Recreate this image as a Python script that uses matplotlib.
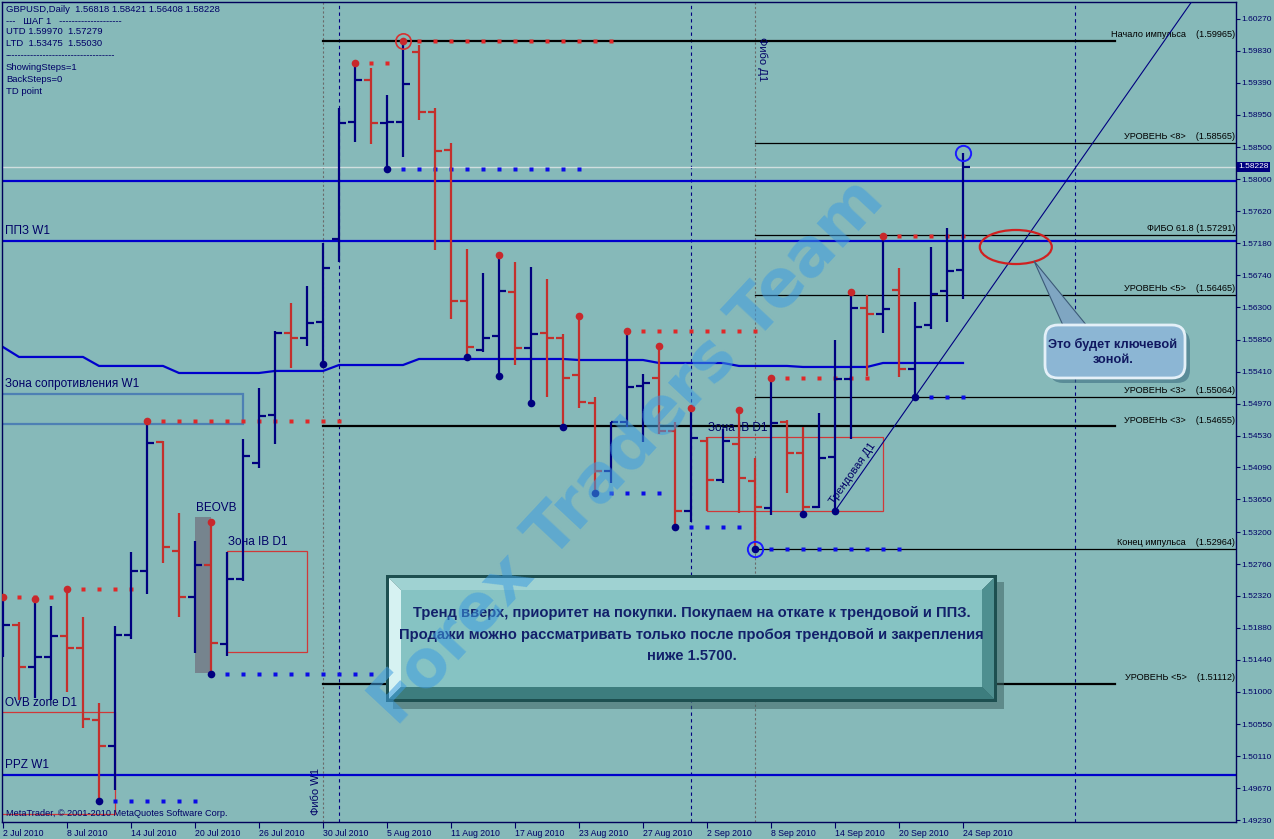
import matplotlib
matplotlib.use("Agg")
import matplotlib.pyplot as plt
from matplotlib.patches import Rectangle, Ellipse, Polygon, FancyBboxPatch
from matplotlib.transforms import IdentityTransform
import numpy as np

plt.rcParams['font.family'] = ['Liberation Sans', 'DejaVu Sans']

W, H = 1274, 839
BG = '#86b9b9'
UP = '#00007f'
DOWN = '#c3302c'
BLUE = '#0000cc'
NAVY = '#000066'

# ---------------- data ----------------
date_labels = ["2 Jul 2010", "8 Jul 2010", "14 Jul 2010", "20 Jul 2010", "26 Jul 2010",
               "30 Jul 2010", "5 Aug 2010", "11 Aug 2010", "17 Aug 2010", "23 Aug 2010",
               "27 Aug 2010", "2 Sep 2010", "8 Sep 2010", "14 Sep 2010", "20 Sep 2010",
               "24 Sep 2010"]
date_label_idx = [0, 4, 8, 12, 16, 20, 24, 28, 32, 36, 40, 44, 48, 52, 56, 60]

price_ticks = [1.60270, 1.59830, 1.59390, 1.58950, 1.58500, 1.58060, 1.57620, 1.57180,
               1.56740, 1.56300, 1.55850, 1.55410, 1.54970, 1.54530, 1.54090, 1.53650,
               1.53200, 1.52760, 1.52320, 1.51880, 1.51440, 1.51000, 1.50550, 1.50110,
               1.49670, 1.49230]

opens = [1.51713, 1.51919, 1.51341, 1.51479, 1.51768, 1.51603, 1.50610, 1.50252, 1.51782, 1.52664,
         1.54441, 1.52939, 1.52305, 1.52746, 1.51658, 1.52553, 1.54152, 1.54813, 1.55943, 1.55874,
         1.56095, 1.57239, 1.58851, 1.59430, 1.58837, 1.58851, 1.59815, 1.58989, 1.58465, 1.56384,
         1.55709, 1.55902, 1.56508, 1.55737, 1.55943, 1.55874, 1.55364, 1.54979, 1.54042, 1.54717,
         1.55213, 1.55323, 1.54593, 1.53490, 1.54455, 1.53918, 1.54414, 1.53904, 1.53532, 1.54717,
         1.54290, 1.53546, 1.54235, 1.55309, 1.56288, 1.56205, 1.56536, 1.55447, 1.56053, 1.56522,
         1.56818]
highs = [1.52305, 1.51961, 1.52278, 1.52181, 1.52416, 1.52030, 1.50845, 1.51906, 1.52925, 1.54731,
         1.54455, 1.53463, 1.53077, 1.53339, 1.52925, 1.54483, 1.55185, 1.55971, 1.56357, 1.56591,
         1.57183, 1.59044, 1.59664, 1.59595, 1.59223, 1.59965, 1.59912, 1.59044, 1.58561, 1.57101,
         1.56770, 1.57018, 1.56922, 1.56853, 1.56687, 1.55929, 1.56178, 1.55061, 1.54717, 1.55971,
         1.55378, 1.55764, 1.54717, 1.54910, 1.54510, 1.54620, 1.54882, 1.54221, 1.55323, 1.54744,
         1.54648, 1.54841, 1.55847, 1.56508, 1.56467, 1.57280, 1.56839, 1.56370, 1.57128, 1.57390,
         1.58421]
lows = [1.51479, 1.50886, 1.50914, 1.50886, 1.50996, 1.50500, 1.49494, 1.49646, 1.51727, 1.52347,
        1.52774, 1.52030, 1.51534, 1.51244, 1.51492, 1.52520, 1.54083, 1.54414, 1.55461, 1.55764,
        1.55516, 1.56922, 1.58575, 1.58548, 1.58203, 1.58369, 1.58878, 1.57087, 1.56136, 1.55613,
        1.55681, 1.55351, 1.55502, 1.54979, 1.55061, 1.54648, 1.54910, 1.53738, 1.53876, 1.54648,
        1.54441, 1.54551, 1.53270, 1.53339, 1.53490, 1.53876, 1.53463, 1.52964, 1.53435, 1.53738,
        1.53449, 1.53532, 1.53490, 1.54483, 1.55351, 1.55943, 1.55337, 1.55064, 1.55998, 1.56095,
        1.56408]
closes = [1.51919, 1.51341, 1.51479, 1.51768, 1.51603, 1.50624, 1.50252, 1.51782, 1.52664, 1.54427,
          1.52994, 1.52305, 1.52746, 1.51671, 1.52553, 1.54248, 1.54800, 1.55943, 1.55874, 1.56081,
          1.56839, 1.58837, 1.59430, 1.58837, 1.58851, 1.59374, 1.58989, 1.58451, 1.56384, 1.55750,
          1.55874, 1.56522, 1.55737, 1.55929, 1.55874, 1.55323, 1.54992, 1.54042, 1.54717, 1.55199,
          1.55254, 1.54593, 1.53490, 1.54496, 1.53918, 1.54455, 1.53945, 1.53546, 1.54703, 1.54290,
          1.53546, 1.54221, 1.55309, 1.56288, 1.56205, 1.56274, 1.55447, 1.56026, 1.56481, 1.56798,
          1.58228]

ma_line = [1.55750, 1.55613, 1.55613, 1.55613, 1.55613, 1.55613, 1.55489, 1.55489, 1.55489, 1.55489,
           1.55489, 1.55392, 1.55392, 1.55392, 1.55392, 1.55392, 1.55392, 1.55420, 1.55420, 1.55420,
           1.55420, 1.55502, 1.55502, 1.55502, 1.55502, 1.55502, 1.55585, 1.55585, 1.55585, 1.55585,
           1.55585, 1.55585, 1.55585, 1.55585, 1.55585, 1.55585, 1.55571, 1.55571, 1.55571, 1.55571,
           1.55571, 1.55530, 1.55530, 1.55530, 1.55530, 1.55530, 1.55489, 1.55489, 1.55489, 1.55489,
           1.55475, 1.55475, 1.55475, 1.55475, 1.55475, 1.55530, 1.55530, 1.55530, 1.55530, 1.55530,
           1.55530]

td_high_idx = [0, 2, 4, 9, 13, 22, 25, 31, 36, 39, 41, 43, 46, 48, 53, 55]
td_low_idx = [6, 13, 20, 24, 29, 31, 33, 35, 37, 42, 47, 50, 52, 57]
td_high_lines = [(0, 3), (4, 8), (9, 21), (22, 24), (25, 38), (39, 47), (48, 54), (55, 60)]
td_low_lines = [(6, 12), (13, 23), (24, 36), (37, 41), (42, 46), (47, 56), (57, 60)]

blue_levels = [1.58038, 1.57211, 1.49852]
blue_level_names = ["", "ППЗ W1", "PPZ W1"]

fibo_d1_levels = [1.58565, 1.57291, 1.56465, 1.55064, 1.52964]
fibo_d1_names = ["УРОВЕНЬ <8>    ", "ФИБО 61.8 ", "УРОВЕНЬ <5>    ", "УРОВЕНЬ <3>    ",
                 "Конец импульса    "]
fibo_w1_levels = [1.59965, 1.54655, 1.51112]
fibo_w1_names = ["Начало импульса    ", "УРОВЕНЬ <3>    ", "УРОВЕНЬ <5>    "]
fibo_w1_bar, fibo_d1_bar = 20, 47
separator_bars = [21, 43, 67]

zone_resist_w1 = (-0.2, 15.0, 1.54689, 1.55102)
zone_ovb_d1 = (-0.2, 7.0, 1.49315, 1.50721)
zone_ib_left = (14.0, 19.0, 1.51547, 1.52939)
zone_ib_right = (44.0, 55.0, 1.53490, 1.54510)
zone_beovb = (12.0, 13.0, 1.51258, 1.53408)

trend_bars = (52, 57)

# ---------------- figure ----------------
fig = plt.figure(figsize=(W / 100, H / 100), dpi=100, facecolor=BG)
ax = fig.add_axes([2 / W, 17 / H, 1234 / W, 820 / H], facecolor=BG)
ax.set_xlim(-0.0625, 77.0625)
ax.set_ylim(1.49205, 1.60504)

PIX = IdentityTransform()


def px(x, y):
    return (x, H - y)


idx = np.arange(len(opens))
o = np.array(opens); h = np.array(highs); l = np.array(lows); c = np.array(closes)

# vertical separators
for b in separator_bars:
    ax.axvline(b, color='#000080', lw=0.8, ls=(0, (3, 3)), zorder=1)
for b in (fibo_w1_bar, fibo_d1_bar):
    ax.axvline(b, color='#6a6a6a', lw=0.8, ls=(0, (2, 2)), zorder=1)
ax.text(fibo_w1_bar - 0.15, 1.49300, "Фибо W1", rotation=90, ha='right', va='bottom',
        fontsize=8, color=NAVY, zorder=3)
ax.text(fibo_d1_bar + 0.1, 1.60015, "Фибо Д1", rotation=270, ha='left', va='top',
        fontsize=8, color=NAVY, zorder=3)

# current price line
ax.axhline(closes[-1], color='#d0dede', lw=1.0, zorder=1)

# blue levels
for lv, nm in zip(blue_levels, blue_level_names):
    ax.axhline(lv, color=BLUE, lw=1.6, zorder=2)
    if nm:
        ax.text(0.1, lv + 0.0006, nm, fontsize=8.5, color=NAVY, ha='left', va='bottom', zorder=3)

# MA-like line
ax.plot(idx, ma_line, color=BLUE, lw=1.6, zorder=2)

# fibo lines
for lv, nm in zip(fibo_d1_levels, fibo_d1_names):
    ax.plot([fibo_d1_bar, 77.1], [lv, lv], color='black', lw=0.9, zorder=2)
    ax.text(77.0, lv + 0.00025, f"{nm}({lv:.5f})", fontsize=6.6, color='black',
            ha='right', va='bottom', zorder=3)
for lv, nm in zip(fibo_w1_levels, fibo_w1_names):
    ax.plot([fibo_w1_bar, 69.5], [lv, lv], color='black', lw=1.6, zorder=2)
    ax.text(77.0, lv + 0.00025, f"{nm}({lv:.5f})", fontsize=6.6, color='black',
            ha='right', va='bottom', zorder=3)

# zones
x0, x1, y0, y1 = zone_resist_w1
ax.add_patch(Rectangle((x0, y0), x1 - x0, y1 - y0, fc='none', ec='#4d80b4', lw=1.6, zorder=2))
ax.text(0.1, y1 + 0.0006, "Зона сопротивления W1", fontsize=8.5, color=NAVY, va='bottom', zorder=3)
x0, x1, y0, y1 = zone_ovb_d1
ax.add_patch(Rectangle((x0, y0), x1 - x0, y1 - y0, fc='none', ec='#d03838', lw=0.9, zorder=2))
ax.text(0.1, y1 + 0.0004, "OVB zone D1", fontsize=8.5, color=NAVY, va='bottom', zorder=3)
for z in (zone_ib_left, zone_ib_right):
    x0, x1, y0, y1 = z
    ax.add_patch(Rectangle((x0, y0), x1 - x0, y1 - y0, fc='none', ec='#d03838', lw=0.9, zorder=2))
    ax.text(x0 + 0.05, y1 + 0.0004, "Зона IB D1", fontsize=8.5, color=NAVY, va='bottom', zorder=3)
x0, x1, y0, y1 = zone_beovb
ax.add_patch(Rectangle((x0, y0), x1 - x0, y1 - y0, fc='#76848e', ec='none', zorder=2))
ax.text(x0 + 0.05, y1 + 0.0004, "BEOVB", fontsize=8.5, color=NAVY, va='bottom', zorder=3)

# trendline
b0, b1 = trend_bars
slope = (lows[b1] - lows[b0]) / (b1 - b0)
ax.plot([b0, 80], [lows[b0], lows[b0] + slope * (80 - b0)], color='#000080', lw=0.8, zorder=4)
ax.text(53.1, 1.5401, "Трендовая Д1", rotation=55, rotation_mode='anchor', ha='center',
        va='center', fontsize=8, color=NAVY, zorder=4)

# bars
cols = [UP if cc >= oo else DOWN for oo, cc in zip(opens, closes)]
ax.vlines(idx, l, h, colors=cols, lw=1.6, zorder=5, capstyle='butt')
ax.hlines(o, idx - 0.42, idx, colors=cols, lw=1.6, zorder=5)
ax.hlines(c, idx, idx + 0.42, colors=cols, lw=1.6, zorder=5)

# TD lines
for s, e in td_high_lines:
    xs = np.arange(s + 1, e + 1)
    ax.plot(xs, [highs[s]] * len(xs), 's', ms=2.4, color='#e02828', mec='none', zorder=4)
for s, e in td_low_lines:
    xs = np.arange(s + 1, e + 1)
    ax.plot(xs, [lows[s]] * len(xs), 's', ms=2.4, color='#0a0ae6', mec='none', zorder=4)

# TD points
ax.plot(td_high_idx, h[td_high_idx], 'o', ms=5.5, color='#c8282c', mec='none', zorder=6)
ax.plot(td_low_idx, l[td_low_idx], 'o', ms=5.5, color='#00007f', mec='none', zorder=6)
ax.plot([25], [highs[25]], 'o', ms=11, mfc='none', mec='#d83030', mew=1.2, zorder=6)
ax.plot([47], [lows[47]], 'o', ms=11, mfc='none', mec='#1a1aff', mew=1.4, zorder=6)
ax.plot([60], [highs[60]], 'o', ms=11, mfc='none', mec='#1a1aff', mew=1.4, zorder=6)

# ellipse
ax.add_patch(Ellipse((63.3, 1.57128), 4.5, 0.00469, fc='none', ec='#d02020', lw=1.6, zorder=7))

# callout
ax.add_patch(Polygon([px(1066, 332), px(1092, 332), px(1034, 261)], closed=True,
                     fc='#7fa6c2', ec='#3c5a78', lw=0.8, transform=PIX, zorder=14, clip_on=False))
ax.add_patch(FancyBboxPatch(px(1050, 383), 140, 53, boxstyle='round,pad=0,rounding_size=13',
                            fc='#3e6f82', ec='none', alpha=0.6, transform=PIX, zorder=14))
ax.add_patch(FancyBboxPatch(px(1045, 378), 140, 53, boxstyle='round,pad=0,rounding_size=13',
                            fc='#8cb6d4', ec='#e4f0f8', lw=2, transform=PIX, zorder=15))
ax.text(*px(1113, 352), "Это будет ключевой\nзоной.", transform=PIX, ha='center', va='center',
        fontsize=9.2, fontweight='bold', color='#101860', linespacing=1.3, zorder=16)

# main text box (bevelled)
L, T, R, B = 386, 575, 997, 702
ax.add_patch(Polygon([px(L + 7, T + 7), px(R + 7, T + 7), px(R + 7, B + 7), px(L + 7, B + 7)],
                     fc='#3d6464', alpha=0.55, ec='none', transform=PIX, zorder=14))
ax.add_patch(Polygon([px(L, T), px(R, T), px(R, B), px(L, B)], fc='#1d4f50', ec='none',
                     transform=PIX, zorder=15))
o3, o15 = 3, 15
ax.add_patch(Polygon([px(L + o3, T + o3), px(R - o3, T + o3), px(R - o15, T + o15), px(L + o15, T + o15)],
                     fc='#9fd2d2', ec='none', transform=PIX, zorder=15))
ax.add_patch(Polygon([px(L + o3, T + o3), px(L + o15, T + o15), px(L + o15, B - o15), px(L + o3, B - o3)],
                     fc='#d6f2f2', ec='none', transform=PIX, zorder=15))
ax.add_patch(Polygon([px(L + o3, B - o3), px(L + o15, B - o15), px(R - o15, B - o15), px(R - o3, B - o3)],
                     fc='#3d7d7e', ec='none', transform=PIX, zorder=15))
ax.add_patch(Polygon([px(R - o3, T + o3), px(R - o3, B - o3), px(R - o15, B - o15), px(R - o15, T + o15)],
                     fc='#4e8f90', ec='none', transform=PIX, zorder=15))
ax.add_patch(Polygon([px(L + o15, T + o15), px(R - o15, T + o15), px(R - o15, B - o15), px(L + o15, B - o15)],
                     fc='#86c3c3', ec='none', transform=PIX, zorder=15))
msg = ["Тренд вверх, приоритет на покупки. Покупаем на откате к трендовой и ППЗ.",
       "Продажи можно рассматривать только после пробоя трендовой и закрепления",
       "ниже 1.5700."]
for k, line in enumerate(msg):
    ax.text(*px((L + R) / 2, 613 + 21.5 * k), line, transform=PIX, ha='center', va='center',
            fontsize=10.6, fontweight='bold', color='#12206a', zorder=16)

# watermark
ax.text(*px(628, 452), "Forex Traders Team", transform=PIX, rotation=47, rotation_mode='anchor',
        ha='center', va='center', fontsize=47, fontweight='bold', color='#3f9de0', alpha=0.55,
        zorder=20, family='DejaVu Sans')

# info text top-left
info = [f"GBPUSD,Daily  {opens[-1]:.5f} {highs[-1]:.5f} {lows[-1]:.5f} {closes[-1]:.5f}",
        "---   ШАГ 1   --------------------",
        "UTD 1.59970  1.57279",
        "LTD  1.53475  1.55030",
        "-----------------------------------",
        "ShowingSteps=1",
        "BackSteps=0",
        "TD point"]
info_y = [10, 21, 32, 44, 56, 68, 80, 92]
for s, yy in zip(info, info_y):
    ax.text(*px(6, yy), s, transform=PIX, fontsize=6.8, color=NAVY, va='center', ha='left', zorder=10)
ax.text(*px(6, 813), "MetaTrader, © 2001-2010 MetaQuotes Software Corp.", transform=PIX,
        fontsize=6.6, color=NAVY, va='center', ha='left', zorder=10)

# axes styling
ax.yaxis.tick_right()
ax.set_yticks(price_ticks)
ax.set_yticklabels([f"{p:.5f}" for p in price_ticks])
ax.set_xticks(date_label_idx)
ax.set_xticklabels(date_labels)
for t in ax.get_xticklabels():
    t.set_ha('left')
ax.tick_params(axis='y', length=3, width=0.8, color=NAVY, labelsize=6.0, labelcolor=NAVY, pad=1)
ax.tick_params(axis='x', length=4, width=0.8, color=NAVY, labelsize=6.3, labelcolor=NAVY, pad=1)
for sp in ax.spines.values():
    sp.set_color('#00005a')
    sp.set_linewidth(1.0)

# current price label
ax.text(*px(1238, 167), f"{closes[-1]:.5f}", transform=PIX, fontsize=6.0, color='white',
        va='center', ha='left', zorder=30, clip_on=False,
        bbox=dict(boxstyle='square,pad=0.15', fc='#000080', ec='none'))

fig.savefig('out.png', dpi=100, facecolor=BG)
